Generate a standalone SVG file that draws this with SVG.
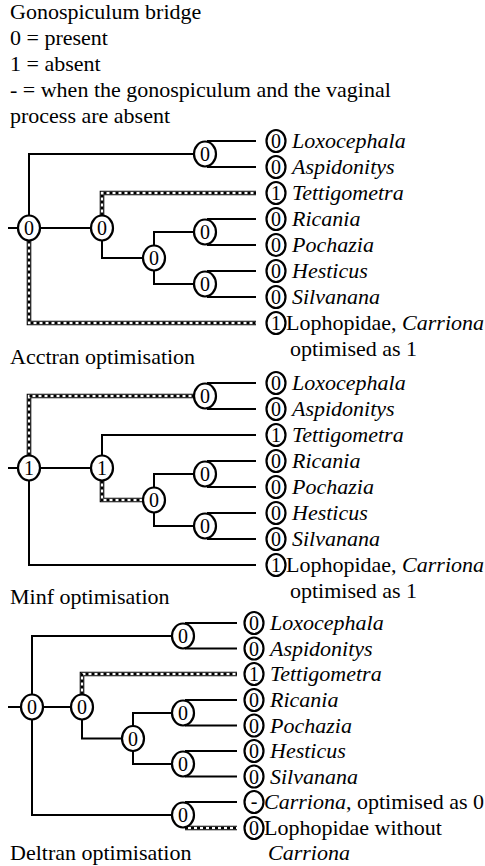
<svg xmlns="http://www.w3.org/2000/svg" width="485" height="866" viewBox="0 0 485 866">
<style>
.t{font-family:"Liberation Serif","Times New Roman",serif;font-size:22px;fill:#000}
.i{font-style:italic}
.d{font-family:"Liberation Serif","Times New Roman",serif;font-size:20px;text-anchor:middle;fill:#000}
.c{fill:#fff;stroke:#000;stroke-width:2.2}
.s{fill:none;stroke:#000;stroke-width:2}
.h1{fill:none;stroke:#000;stroke-width:4.6}
.h2{fill:none;stroke:#fff;stroke-width:2.4}
.h3{fill:none;stroke:#000;stroke-width:2.4;stroke-dasharray:3 3}
</style>
<rect width="485" height="866" fill="#fff"/>
<g id="legend">
<text class="t" x="10" y="19">Gonospiculum bridge</text>
<text class="t" x="10" y="45">0 = present</text>
<text class="t" x="10" y="71">1 = absent</text>
<text class="t" x="10" y="97">- = when the gonospiculum and the vaginal</text>
<text class="t" x="10" y="123">process are absent</text>
</g>
<g id="connectors">
<!-- tree 1 -->
<path class="s" d="M8,228H18M29,216V154H194M40,228H91M102,240.5V258H143M154,245.5V232H194M154,270.5V284H194M207,141H256M207,167H256M207,219H256M207,245H256M207,271H256M207,297H256"/>
<path class="h1" d="M102,215.5V193H256M29,240.5V323H256"/>
<path class="h2" d="M102,215.5V193H256M29,240.5V323H256"/>
<path class="h3" d="M102,215.5V193H256M29,240.5V323H256"/>
<!-- tree 2 -->
<path class="s" d="M8,468H18M40,468H91M102,455.5V435H256M154,487.5V474H194M154,512.5V526H194M29,480.5V565H256M207,383H256M207,409H256M207,461H256M207,487H256M207,513H256M207,539H256"/>
<path class="h1" d="M29,455.5V396H194M102,480.5V500H143"/>
<path class="h2" d="M29,455.5V396H194M102,480.5V500H143"/>
<path class="h3" d="M29,455.5V396H194M102,480.5V500H143"/>
<!-- tree 3 -->
<path class="s" d="M8,707H21M32,694.5V636H172M43,707H71M82,719.5V738.5H122M133,726V713H172M133,751V764H172M32,719.5V815H172M185,623H237M185,648.5H237M185,700H237M185,725.5H237M185,751H237M185,776.5H237M185,802H237"/>
<path class="h1" d="M82,694.5V674H237M185,828H237"/>
<path class="h2" d="M82,694.5V674H237M185,828H237"/>
<path class="h3" d="M82,694.5V674H237M185,828H237"/>
</g>
<!-- tree 1 internal nodes -->
<g id="t1-root"><ellipse class="c" cx="29" cy="228" rx="11" ry="12.5"/><text class="d" x="29" y="235">0</text></g>
<g id="t1-n2"><ellipse class="c" cx="102" cy="228" rx="11" ry="12.5"/><text class="d" x="102" y="235">0</text></g>
<g id="t1-n3"><ellipse class="c" cx="154" cy="258" rx="11" ry="12.5"/><text class="d" x="154" y="265">0</text></g>
<g id="t1-a"><ellipse class="c" cx="205" cy="154" rx="11" ry="12.5"/><text class="d" x="205" y="161">0</text></g>
<g id="t1-n4"><ellipse class="c" cx="205" cy="232" rx="11" ry="12.5"/><text class="d" x="205" y="239">0</text></g>
<g id="t1-n5"><ellipse class="c" cx="205" cy="284" rx="11" ry="12.5"/><text class="d" x="205" y="291">0</text></g>
<!-- tree 1 leaves -->
<g id="t1-lox"><ellipse class="c" cx="276" cy="141" rx="9.5" ry="11"/><text class="d" x="276" y="148">0</text><text class="t i" x="292" y="148">Loxocephala</text></g>
<g id="t1-asp"><ellipse class="c" cx="276" cy="167" rx="9.5" ry="11"/><text class="d" x="276" y="174">0</text><text class="t i" x="292" y="174">Aspidonitys</text></g>
<g id="t1-tet"><ellipse class="c" cx="276" cy="193" rx="9.5" ry="11"/><text class="d" x="276" y="200">1</text><text class="t i" x="292" y="200">Tettigometra</text></g>
<g id="t1-ric"><ellipse class="c" cx="276" cy="219" rx="9.5" ry="11"/><text class="d" x="276" y="226">0</text><text class="t i" x="292" y="226">Ricania</text></g>
<g id="t1-poc"><ellipse class="c" cx="276" cy="245" rx="9.5" ry="11"/><text class="d" x="276" y="252">0</text><text class="t i" x="292" y="252">Pochazia</text></g>
<g id="t1-hes"><ellipse class="c" cx="276" cy="271" rx="9.5" ry="11"/><text class="d" x="276" y="278">0</text><text class="t i" x="292" y="278">Hesticus</text></g>
<g id="t1-sil"><ellipse class="c" cx="276" cy="297" rx="9.5" ry="11"/><text class="d" x="276" y="304">0</text><text class="t i" x="292" y="304">Silvanana</text></g>
<g id="t1-loph"><ellipse class="c" cx="276" cy="323" rx="9.5" ry="11"/><text class="d" x="276" y="330">1</text><text class="t" x="286" y="330">Lophopidae, <tspan class="i">Carriona</tspan></text><text class="t" x="290" y="356">optimised as 1</text></g>
<text class="t" x="10" y="364">Acctran optimisation</text>
<!-- tree 2 internal nodes -->
<g id="t2-root"><ellipse class="c" cx="29" cy="468" rx="11" ry="12.5"/><text class="d" x="29" y="475">1</text></g>
<g id="t2-n2"><ellipse class="c" cx="102" cy="468" rx="11" ry="12.5"/><text class="d" x="102" y="475">1</text></g>
<g id="t2-n3"><ellipse class="c" cx="154" cy="500" rx="11" ry="12.5"/><text class="d" x="154" y="507">0</text></g>
<g id="t2-a"><ellipse class="c" cx="205" cy="396" rx="11" ry="12.5"/><text class="d" x="205" y="403">0</text></g>
<g id="t2-n4"><ellipse class="c" cx="205" cy="474" rx="11" ry="12.5"/><text class="d" x="205" y="481">0</text></g>
<g id="t2-n5"><ellipse class="c" cx="205" cy="526" rx="11" ry="12.5"/><text class="d" x="205" y="533">0</text></g>
<!-- tree 2 leaves -->
<g id="t2-lox"><ellipse class="c" cx="276" cy="383" rx="9.5" ry="11"/><text class="d" x="276" y="390">0</text><text class="t i" x="292" y="390">Loxocephala</text></g>
<g id="t2-asp"><ellipse class="c" cx="276" cy="409" rx="9.5" ry="11"/><text class="d" x="276" y="416">0</text><text class="t i" x="292" y="416">Aspidonitys</text></g>
<g id="t2-tet"><ellipse class="c" cx="276" cy="435" rx="9.5" ry="11"/><text class="d" x="276" y="442">1</text><text class="t i" x="292" y="442">Tettigometra</text></g>
<g id="t2-ric"><ellipse class="c" cx="276" cy="461" rx="9.5" ry="11"/><text class="d" x="276" y="468">0</text><text class="t i" x="292" y="468">Ricania</text></g>
<g id="t2-poc"><ellipse class="c" cx="276" cy="487" rx="9.5" ry="11"/><text class="d" x="276" y="494">0</text><text class="t i" x="292" y="494">Pochazia</text></g>
<g id="t2-hes"><ellipse class="c" cx="276" cy="513" rx="9.5" ry="11"/><text class="d" x="276" y="520">0</text><text class="t i" x="292" y="520">Hesticus</text></g>
<g id="t2-sil"><ellipse class="c" cx="276" cy="539" rx="9.5" ry="11"/><text class="d" x="276" y="546">0</text><text class="t i" x="292" y="546">Silvanana</text></g>
<g id="t2-loph"><ellipse class="c" cx="276" cy="565" rx="9.5" ry="11"/><text class="d" x="276" y="572">1</text><text class="t" x="286" y="572">Lophopidae, <tspan class="i">Carriona</tspan></text><text class="t" x="290" y="598">optimised as 1</text></g>
<text class="t" x="10" y="604">Minf optimisation</text>
<!-- tree 3 internal nodes -->
<g id="t3-root"><ellipse class="c" cx="32" cy="707" rx="11" ry="12.5"/><text class="d" x="32" y="714">0</text></g>
<g id="t3-n2"><ellipse class="c" cx="82" cy="707" rx="11" ry="12.5"/><text class="d" x="82" y="714">0</text></g>
<g id="t3-n3"><ellipse class="c" cx="133" cy="738.5" rx="11" ry="12.5"/><text class="d" x="133" y="745.5">0</text></g>
<g id="t3-a"><ellipse class="c" cx="183" cy="636" rx="11" ry="12.5"/><text class="d" x="183" y="643">0</text></g>
<g id="t3-n4"><ellipse class="c" cx="183" cy="713" rx="11" ry="12.5"/><text class="d" x="183" y="720">0</text></g>
<g id="t3-n5"><ellipse class="c" cx="183" cy="764" rx="11" ry="12.5"/><text class="d" x="183" y="771">0</text></g>
<g id="t3-n6"><ellipse class="c" cx="183" cy="815" rx="11" ry="12.5"/><text class="d" x="183" y="822">0</text></g>
<!-- tree 3 leaves -->
<g id="t3-lox"><ellipse class="c" cx="254" cy="623" rx="9.5" ry="11"/><text class="d" x="254" y="630">0</text><text class="t i" x="270" y="630">Loxocephala</text></g>
<g id="t3-asp"><ellipse class="c" cx="254" cy="648.5" rx="9.5" ry="11"/><text class="d" x="254" y="655.5">0</text><text class="t i" x="270" y="655.5">Aspidonitys</text></g>
<g id="t3-tet"><ellipse class="c" cx="254" cy="674" rx="9.5" ry="11"/><text class="d" x="254" y="681">1</text><text class="t i" x="270" y="681">Tettigometra</text></g>
<g id="t3-ric"><ellipse class="c" cx="254" cy="700" rx="9.5" ry="11"/><text class="d" x="254" y="707">0</text><text class="t i" x="270" y="707">Ricania</text></g>
<g id="t3-poc"><ellipse class="c" cx="254" cy="725.5" rx="9.5" ry="11"/><text class="d" x="254" y="732.5">0</text><text class="t i" x="270" y="732.5">Pochazia</text></g>
<g id="t3-hes"><ellipse class="c" cx="254" cy="751" rx="9.5" ry="11"/><text class="d" x="254" y="758">0</text><text class="t i" x="270" y="758">Hesticus</text></g>
<g id="t3-sil"><ellipse class="c" cx="254" cy="776.5" rx="9.5" ry="11"/><text class="d" x="254" y="783.5">0</text><text class="t i" x="270" y="783.5">Silvanana</text></g>
<g id="t3-carr"><ellipse class="c" cx="254" cy="802" rx="9.5" ry="11"/><text class="d" x="254" y="808">-</text><text class="t" x="264" y="809"><tspan class="i">Carriona</tspan>, optimised as 0</text></g>
<g id="t3-loph"><ellipse class="c" cx="254" cy="828" rx="9.5" ry="11"/><text class="d" x="254" y="835">0</text><text class="t" x="264" y="835">Lophopidae without</text><text class="t i" x="268" y="860">Carriona</text></g>
<text class="t" x="10" y="860">Deltran optimisation</text>
</svg>
